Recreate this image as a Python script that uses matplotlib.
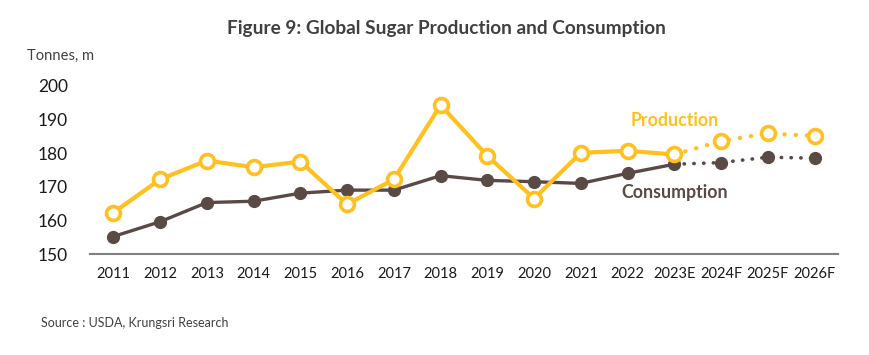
import matplotlib
matplotlib.use("Agg")
import matplotlib.pyplot as plt

plt.rcParams["font.family"] = ["Lato", "DejaVu Sans"]

years = ["2011", "2012", "2013", "2014", "2015", "2016", "2017", "2018",
         "2019", "2020", "2021", "2022", "2023E", "2024F", "2025F", "2026F"]
production = [162.3, 172.2, 177.8, 175.8, 177.5, 164.8, 172.2, 194.3,
              179.2, 166.5, 180.1, 180.7, 179.6, 183.6, 185.9, 185.1]
consumption = [155.2, 159.6, 165.3, 165.7, 168.1, 169.0, 169.0, 173.3,
               171.9, 171.5, 171.0, 174.0, 176.7, 177.2, 178.8, 178.5]
n_actual = 13  # up to 2023E solid, then dotted forecast

PROD_C = "#FFC020"
CONS_C = "#5A4A46"
TEXT_C = "#404040"

fig = plt.figure(figsize=(8.7, 3.55), dpi=100)
ax = fig.add_axes([0.1034, 0.2845, 0.8598, 0.4735])
x = list(range(len(years)))

# forecast dotted parts first so solid markers sit on top
ax.plot(x[n_actual - 1:], consumption[n_actual - 1:], color=CONS_C, lw=2.6,
        linestyle=(0, (0.1, 2.6)), dash_capstyle="round", zorder=2)
ax.plot(x[n_actual - 1:], production[n_actual - 1:], color=PROD_C, lw=3.0,
        linestyle=(0, (0.1, 2.6)), dash_capstyle="round", zorder=3)

ax.plot(x[:n_actual], consumption[:n_actual], color=CONS_C, lw=2.4, zorder=2)
ax.plot(x[:n_actual], production[:n_actual], color=PROD_C, lw=3.0, zorder=3)

ax.plot(x, consumption, linestyle="none", marker="o", ms=8.5, color=CONS_C,
        zorder=4, clip_on=False)
ax.plot(x, production, linestyle="none", marker="o", ms=10, mfc="white",
        mec=PROD_C, mew=2.6, zorder=5, clip_on=False)

ax.set_xlim(-0.5, len(years) - 0.5)
ax.set_ylim(150, 200)
ax.set_yticks([150, 160, 170, 180, 190, 200])
ax.set_xticks(x)
ax.set_xticklabels(years)
ax.tick_params(axis="y", length=0, labelsize=12.5, pad=16, colors="#1a1a1a")
ax.tick_params(axis="x", length=0, labelsize=10.5, pad=9, colors="#1a1a1a")
for side in ["top", "right", "left"]:
    ax.spines[side].set_visible(False)
ax.spines["bottom"].set_color("#808080")
ax.spines["bottom"].set_linewidth(1.5)

ax.text(12.0, 189.6, "Production", color=PROD_C, fontsize=12.8,
        fontweight="bold", ha="center", va="center")
ax.text(12.0, 168.2, "Consumption", color=CONS_C, fontsize=12.8,
        fontweight="bold", ha="center", va="center")

fig.text(0.513, 0.921, "Figure 9: Global Sugar Production and Consumption",
         ha="center", va="center", fontsize=13.7, fontweight="bold", color=TEXT_C)
fig.text(0.031, 0.842, "Tonnes, m", ha="left", va="center", fontsize=10.6,
         color=TEXT_C)
fig.text(0.047, 0.09, "Source : USDA, Krungsri Research", ha="left",
         va="center", fontsize=9, color=TEXT_C)

fig.savefig("out.png", dpi=100)
